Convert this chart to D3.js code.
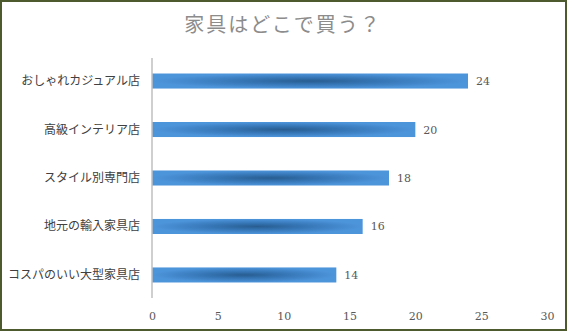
<!DOCTYPE html>
<html>
<head>
  <meta charset="utf-8">
  <script src="https://d3js.org/d3.v7.min.js"></script>
  <style>
    body { margin: 0; background: #fff; }
    .cat { font-family: "Noto Sans CJK JP", sans-serif; font-size: 12px; fill: #404040; }
    .num { font-family: "DejaVu Serif", "Liberation Serif", serif; font-size: 11px; fill: #595959; }
    .title { font-family: "Noto Sans CJK JP", serif; font-size: 20px; fill: #8c8c8c; letter-spacing: 2px; }
  </style>
</head>
<body>
  <svg width="567" height="331"></svg>
  <script>
    const categories = ["おしゃれカジュアル店", "高級インテリア店", "スタイル別専門店", "地元の輸入家具店", "コスパのいい大型家具店"]
    const values = [24, 20, 18, 16, 14]
    const ticks = [0, 5, 10, 15, 20, 25, 30]

    const svg = d3.select("svg")

    // outer frame
    svg.append("rect")
      .attr("x", 1).attr("y", 1).attr("width", 565).attr("height", 329)
      .attr("fill", "#fff").attr("stroke", "#4d5a2e").attr("stroke-width", 2)

    const defs = svg.append("defs")
    const grad = defs.append("radialGradient")
      .attr("id", "barGrad")
      .attr("cx", "0.5").attr("cy", "0.5").attr("r", "0.5")
    grad.append("stop").attr("offset", "0%").attr("stop-color", "#285d90")
    grad.append("stop").attr("offset", "45%").attr("stop-color", "#3676b6")
    grad.append("stop").attr("offset", "100%").attr("stop-color", "#4d95db")

    const x = d3.scaleLinear().domain([0, 30]).range([152, 547])
    const y = d3.scaleBand().domain(categories).range([58, 298]).paddingInner(0.69).paddingOuter(0.32)

    svg.append("text")
      .attr("class", "title")
      .attr("x", 283).attr("y", 32)
      .attr("text-anchor", "middle")
      .text("家具はどこで買う？")

    svg.append("g")
      .selectAll("rect")
      .data(values)
      .join("rect")
      .attr("x", x(0))
      .attr("y", (d, i) => y(categories[i]))
      .attr("width", d => x(d) - x(0))
      .attr("height", y.bandwidth())
      .attr("fill", "url(#barGrad)")

    svg.append("g")
      .selectAll("text")
      .data(values)
      .join("text")
      .attr("class", "num")
      .attr("x", d => x(d) + 8)
      .attr("y", (d, i) => y(categories[i]) + y.bandwidth() / 2 + 4)
      .text(d => d)

    // category axis
    svg.append("line")
      .attr("x1", x(0)).attr("x2", x(0))
      .attr("y1", 58).attr("y2", 298)
      .attr("stroke", "#bfbfbf").attr("stroke-width", 1.5)

    svg.append("g")
      .selectAll("text")
      .data(categories)
      .join("text")
      .attr("class", "cat")
      .attr("x", 140)
      .attr("y", d => y(d) + y.bandwidth() / 2 + 4)
      .attr("text-anchor", "end")
      .text(d => d)

    // value axis labels
    const xAxis = svg.append("g")
      .attr("transform", "translate(0,300)")
      .call(d3.axisBottom(x).tickValues(ticks).tickSize(0).tickPadding(12))
    xAxis.select(".domain").remove()
    xAxis.selectAll("text").attr("class", "num")
  </script>
</body>
</html>
